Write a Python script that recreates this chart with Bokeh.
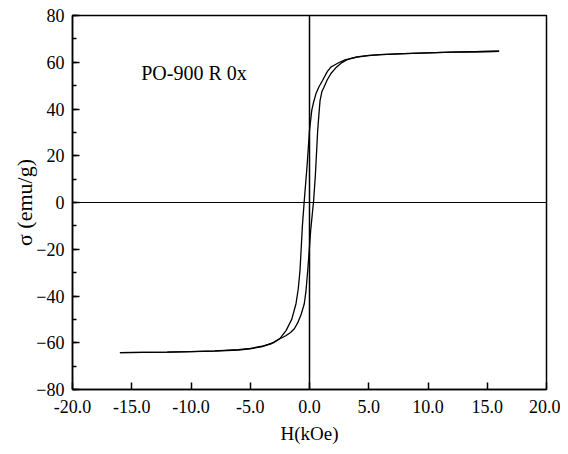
from bokeh.plotting import figure
from bokeh.models import Span, SingleIntervalTicker, PrintfTickFormatter, Range1d
from bokeh.core.properties import value
from bokeh.embed import file_html
from bokeh.resources import INLINE

# Descending branch (H from +16 to -16 kOe)
H_desc = [16.0, 14.0, 12.0, 10.0, 8.0, 6.0, 5.0, 4.0, 3.5, 3.0, 2.5, 2.0, 1.8, 1.5,
          1.1, 0.8, 0.55, 0.35, 0.19, 0.0, -0.2, -0.44, -0.6, -0.8, -0.95, -1.14,
          -1.5, -1.98, -2.5, -3.25, -4.0, -5.0, -6.0, -8.0, -10.0, -12.0, -14.0, -16.0]
M_desc = [64.7, 64.5, 64.3, 64.0, 63.7, 63.3, 62.9, 62.3, 61.7, 61.0, 59.9, 58.5, 57.9, 56.0,
          52.2, 49.5, 46.6, 43.0, 39.4, 30.8, 16.0, 0.9, -10.0, -29.0, -37.0, -43.3,
          -50.0, -54.8, -58.2, -60.5, -61.7, -62.6, -63.1, -63.6, -63.8, -64.0, -64.1, -64.2]

# Ascending branch (H from -16 to +16 kOe)
H_asc = [-16.0, -14.0, -12.0, -10.0, -8.0, -6.0, -5.0, -4.0, -3.5, -2.97, -2.5, -2.0,
         -1.6, -1.28, -1.0, -0.7, -0.44, -0.3, -0.15, 0.1, 0.35, 0.5, 0.69, 0.8, 0.89,
         1.05, 1.22, 1.5, 1.81, 2.2, 2.66, 3.1, 3.5, 4.0, 5.0, 6.0, 8.0, 10.0, 12.0, 14.0, 16.0]
M_asc = [-64.2, -64.1, -64.0, -63.8, -63.5, -62.9, -62.4, -61.5, -60.7, -59.8, -58.3, -57.0,
         -55.6, -54.0, -51.5, -47.8, -43.3, -38.0, -29.1, -12.0, 0.9, 12.0, 30.8, 38.0, 43.6,
         47.5, 49.3, 52.5, 55.2, 57.5, 59.6, 60.9, 61.6, 62.2, 62.8, 63.3, 63.7, 64.0, 64.3, 64.5, 64.7]

sample_label = "PO-900 R 0x"
x_label = "H(kOe)"
y_label = "σ (emu/g)"

FONT = "Liberation Serif"

p = figure(width=560, height=452, output_backend="svg", toolbar_location=None,
           x_range=Range1d(-20, 20), y_range=Range1d(-80, 80),
           min_border_left=72, min_border_right=14, min_border_top=15, min_border_bottom=63)
p.background_fill_color = "white"
p.border_fill_color = "white"
p.outline_line_color = "black"
p.outline_line_width = 1.5
p.xgrid.visible = False
p.ygrid.visible = False

# zero lines
p.add_layout(Span(location=0, dimension="height", line_color="black", line_width=1.5))
p.add_layout(Span(location=0, dimension="width", line_color="black", line_width=1.2))

p.line(H_desc, M_desc, line_color="black", line_width=1.3)
p.line(H_asc, M_asc, line_color="black", line_width=1.3)

p.text(x=[-14.2], y=[55.6], text=[sample_label], text_font=value(FONT),
       text_font_size="20px", text_baseline="middle", text_align="left", text_color="black")

# axes
xa = p.xaxis[0]
xa.ticker = SingleIntervalTicker(interval=5, num_minor_ticks=0)
xa.formatter = PrintfTickFormatter(format="%.1f")
ya = p.yaxis[0]
ya.ticker = SingleIntervalTicker(interval=20, num_minor_ticks=2)

for ax in (xa, ya):
    ax.axis_line_color = "black"
    ax.axis_line_width = 1.5
    ax.major_tick_line_color = "black"
    ax.major_tick_line_width = 1.5
    ax.minor_tick_line_color = "black"
    ax.minor_tick_line_width = 1.5
    ax.major_tick_in = 7
    ax.major_tick_out = 0
    ax.minor_tick_in = 4
    ax.minor_tick_out = 0
    ax.major_label_text_font = FONT
    ax.major_label_text_font_size = "18px"
    ax.major_label_text_color = "black"
    ax.axis_label_text_font = FONT
    ax.axis_label_text_font_style = "normal"
    ax.axis_label_text_color = "black"

xa.axis_label = x_label
ya.axis_label = y_label
xa.axis_label_text_font_size = "19px"
ya.axis_label_text_font_size = "22px"
xa.major_label_standoff = 10
xa.axis_label_standoff = 7
ya.major_label_standoff = 8
ya.axis_label_standoff = -4

open("out.html", "w").write(file_html(p, INLINE))
